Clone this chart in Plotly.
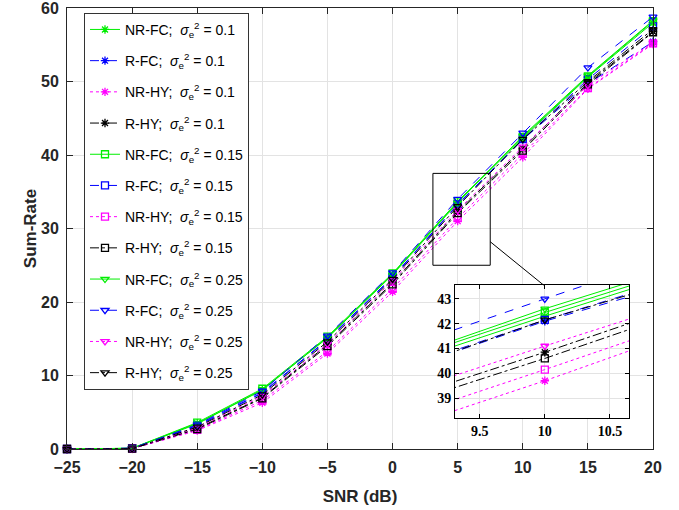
import plotly.graph_objects as go

snr = [-25, -20, -15, -10, -5, 0, 5, 10, 15, 20]

nrfc_01 = [0, 0.1, 3.5, 8.0, 15.2, 23.8, 33.6, 42.30, 50.6, 58.0]
rfc_01  = [0, 0.1, 3.1, 7.6, 14.8, 23.3, 33.2, 42.10, 49.7, 55.4]
nrhy_01 = [0, 0.05, 2.5, 6.3, 13.0, 21.4, 31.0, 39.70, 49.0, 55.1]
rhy_01  = [0, 0.05, 2.8, 7.0, 14.2, 22.6, 32.3, 40.85, 49.8, 56.8]

nrfc_015 = [0, 0.1, 3.6, 8.2, 15.3, 23.9, 33.7, 42.45, 50.7, 58.2]
rfc_015  = [0, 0.1, 3.2, 7.7, 14.9, 23.4, 33.3, 42.15, 50.3, 57.5]
nrhy_015 = [0, 0.05, 2.6, 6.6, 13.3, 21.8, 31.4, 40.15, 49.1, 55.2]
rhy_015  = [0, 0.05, 2.7, 6.9, 14.0, 22.4, 32.1, 40.60, 49.6, 56.7]

nrfc_025 = [0, 0.1, 3.4, 8.1, 15.1, 23.7, 33.5, 42.60, 50.8, 58.3]
rfc_025  = [0, 0.1, 3.3, 7.9, 15.4, 24.0, 34.0, 43.00, 51.9, 58.8]
nrhy_025 = [0, 0.05, 2.9, 7.2, 14.3, 22.9, 32.5, 41.10, 49.5, 55.3]
rhy_025  = [0, 0.05, 3.0, 7.4, 14.6, 23.1, 33.0, 42.15, 50.0, 57.1]

series = [
    ("NR-FC", "0.1", nrfc_01, "#00ee00", "solid", "asterisk-open"),
    ("R-FC", "0.1", rfc_01, "#0000ff", "dash", "asterisk-open"),
    ("NR-HY", "0.1", nrhy_01, "#ff00ff", "dot", "asterisk-open"),
    ("R-HY", "0.1", rhy_01, "#000000", "dashdot", "asterisk-open"),
    ("NR-FC", "0.15", nrfc_015, "#00ee00", "solid", "square-open"),
    ("R-FC", "0.15", rfc_015, "#0000ff", "dash", "square-open"),
    ("NR-HY", "0.15", nrhy_015, "#ff00ff", "dot", "square-open"),
    ("R-HY", "0.15", rhy_015, "#000000", "dashdot", "square-open"),
    ("NR-FC", "0.25", nrfc_025, "#00ee00", "solid", "triangle-down-open"),
    ("R-FC", "0.25", rfc_025, "#0000ff", "dash", "triangle-down-open"),
    ("NR-HY", "0.25", nrhy_025, "#ff00ff", "dot", "triangle-down-open"),
    ("R-HY", "0.25", rhy_025, "#000000", "dashdot", "triangle-down-open"),
]

fig = go.Figure()
for i, (name, var, vals, col, dash, sym) in enumerate(series):
    label = f"{name};  <i>σ</i><sub>e</sub><sup>2</sup> = {var}"
    fig.add_trace(go.Scatter(
        x=snr, y=vals, mode="lines+markers", name=label, legendgroup=f"g{i}",
        line=dict(color=col, width=1, dash=dash),
        marker=dict(symbol=sym, size=7, color=col, line=dict(color=col, width=1.3)),
        cliponaxis=False, xaxis="x", yaxis="y"))
for name, var, vals, col, dash, sym in series:
    fig.add_trace(go.Scatter(
        x=snr, y=vals, mode="lines+markers", showlegend=False,
        line=dict(color=col, width=1, dash=dash),
        marker=dict(symbol=sym, size=7, color=col, line=dict(color=col, width=1.3)),
        cliponaxis=True, xaxis="x2", yaxis="y2"))

axcol = "#262626"
gridcol = "#e3e3e3"
fig.update_layout(
    width=679, height=510,
    margin=dict(l=67, r=26, t=8, b=61),
    paper_bgcolor="white", plot_bgcolor="white",
    font=dict(family="Liberation Sans, Arial, sans-serif", color="#262626"),
    xaxis=dict(range=[-25, 20], tickvals=[-25, -20, -15, -10, -5, 0, 5, 10, 15, 20],
               showgrid=True, gridcolor=gridcol, zeroline=False, automargin=False,
               showline=True, linecolor=axcol, linewidth=1, mirror="ticks",
               ticks="inside", ticklen=6, tickcolor=axcol, ticklabeloverflow="allow",
               ticklabelstandoff=4,
               tickfont=dict(size=16, family="Liberation Sans", weight="bold"),
               title=dict(text="<b>SNR (dB)</b>", font=dict(size=17), standoff=14),
               domain=[0, 1]),
    yaxis=dict(range=[0, 60], tickvals=[0, 10, 20, 30, 40, 50, 60],
               showgrid=True, gridcolor=gridcol, zeroline=False, automargin=False,
               showline=True, linecolor=axcol, linewidth=1, mirror="ticks",
               ticks="inside", ticklen=6, tickcolor=axcol, ticklabeloverflow="allow",
               ticklabelstandoff=4,
               tickfont=dict(size=16, family="Liberation Sans", weight="bold"),
               title=dict(text="<b>Sum-Rate</b>", font=dict(size=17), standoff=0),
               domain=[0, 1]),
    xaxis2=dict(range=[9.31, 10.646], tickvals=[9.5, 10, 10.5], ticktext=["9.5", "10", "10.5"],
                anchor="y2", domain=[0.662, 0.959], automargin=False,
                showgrid=True, gridcolor=gridcol, zeroline=False,
                showline=True, linecolor="black", linewidth=1, mirror="ticks",
                ticks="inside", ticklen=4, tickcolor="black", ticklabeloverflow="allow",
                tickfont=dict(size=14, family="Liberation Serif", weight="bold", color="black")),
    yaxis2=dict(range=[38.2, 43.56], tickvals=[39, 40, 41, 42, 43],
                anchor="x2", domain=[0.0703, 0.372], automargin=False,
                showgrid=True, gridcolor=gridcol, zeroline=False,
                showline=True, linecolor="black", linewidth=1, mirror="ticks",
                ticks="inside", ticklen=4, tickcolor="black", ticklabeloverflow="allow",
                tickfont=dict(size=14, family="Liberation Serif", weight="bold", color="black")),
    legend=dict(x=0.029, y=0.989, xanchor="left", yanchor="top",
                bgcolor="white", bordercolor="#333333", borderwidth=1,
                font=dict(size=14, family="Liberation Sans", color="black"),
                itemwidth=30, tracegroupgap=10),
    showlegend=True,
)

fig.add_shape(type="rect", xref="x", yref="y", x0=3.1, x1=7.5, y0=25, y1=37.5,
              line=dict(color="black", width=1), layer="above")
fig.add_shape(type="line", xref="x", yref="y", x0=7.5, y0=28.2, x1=11.6, y1=22.3,
              line=dict(color="black", width=1), layer="above")

fig.write_html("out.html", config={"displayModeBar": False})

# remove the default 8px page margin so the figure sits at the window origin
with open("out.html", "r", encoding="utf-8") as f:
    html = f.read()
html = html.replace("<body>", '<body style="margin:0;padding:0;">', 1)
with open("out.html", "w", encoding="utf-8") as f:
    f.write(html)
